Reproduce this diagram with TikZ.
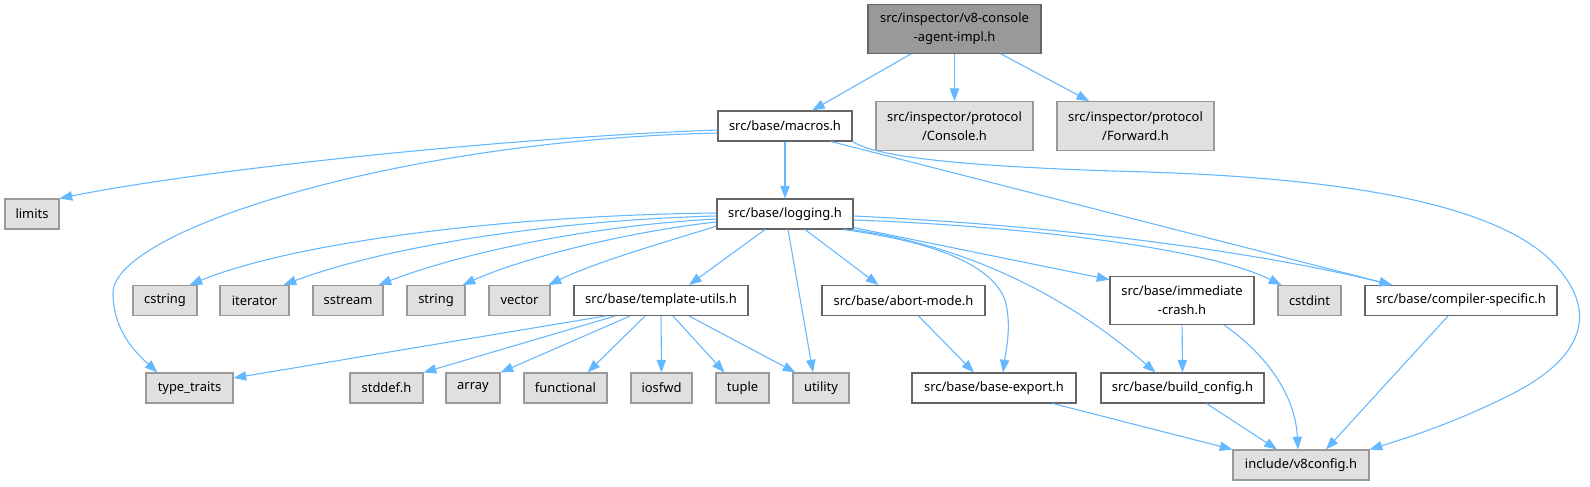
\documentclass[tikz,border=0pt]{standalone}
\usepackage{fontspec}
\setmainfont{Noto Sans}
\usetikzlibrary{arrows.meta,calc}
\definecolor{edgec}{HTML}{63B8FF}
\definecolor{darkfill}{HTML}{999999}
\definecolor{darkline}{HTML}{666666}
\definecolor{grayfill}{HTML}{E0E0E0}
\definecolor{grayline}{HTML}{999999}
\begin{document}
\begin{tikzpicture}[x=0.75pt,y=-0.75pt,
  every node/.style={font=\fontsize{9.7}{14.3}\selectfont, inner sep=0pt, align=center, line width=0.8pt},
  wd/.style={minimum width=#1*0.75pt},
  one/.style={minimum height=22.5pt},
  two/.style={minimum height=36.5pt},
  mainbox/.style={draw=darkline, fill=darkfill},
  filebox/.style={draw=darkline, fill=white},
  sysbox/.style={draw=grayline, fill=grayfill},
  conn/.style={draw=edgec, line width=0.8pt, -{Triangle[length=9.5pt,width=7pt]}}
]
\fill[white] (0,0) rectangle (1590,486);
\useasboundingbox (0,0) rectangle (1590,486);

% nodes
\node[mainbox,two,wd=173] (top) at (954.5,29) {src/inspector/v8-console\\-agent-impl.h};
\node[filebox,one,wd=134] (macros) at (785,126) {src/base/macros.h};
\node[sysbox,two,wd=157] (console) at (954.5,126) {src/inspector/protocol\\/Console.h};
\node[sysbox,two,wd=157] (forward) at (1135.5,126) {src/inspector/protocol\\/Forward.h};
\node[sysbox,one,wd=54] (limits) at (32,214) {limits};
\node[filebox,one,wd=136] (logging) at (785,214) {src/base/logging.h};
\node[sysbox,one,wd=64] (cstring) at (165,300.5) {cstring};
\node[sysbox,one,wd=69] (iterator) at (254.5,300.5) {iterator};
\node[sysbox,one,wd=70] (sstream) at (348,300.5) {sstream};
\node[sysbox,one,wd=58] (string) at (436,300.5) {string};
\node[sysbox,one,wd=61] (vector) at (519.5,300.5) {vector};
\node[filebox,one,wd=174] (tmpl) at (661,300.5) {src/base/template-utils.h};
\node[filebox,one,wd=163] (abort) at (903.5,300.5) {src/base/abort-mode.h};
\node[filebox,two,wd=144] (imm) at (1182,300.5) {src/base/immediate\\-crash.h};
\node[sysbox,one,wd=63] (cstdint) at (1309.5,300.5) {cstdint};
\node[filebox,one,wd=192] (comp) at (1461,300.5) {src/base/compiler-specific.h};
\node[sysbox,one,wd=87] (tt) at (189.5,388) {type\_traits};
\node[sysbox,one,wd=73] (stddef) at (386.5,388) {stddef.h};
\node[sysbox,one,wd=54] (array) at (473,388) {array};
\node[sysbox,one,wd=83] (functional) at (565.5,388) {functional};
\node[sysbox,one,wd=61] (iosfwd) at (661.5,388) {iosfwd};
\node[sysbox,one,wd=53] (tuple) at (742.5,388) {tuple};
\node[sysbox,one,wd=56] (utility) at (821,388) {utility};
\node[filebox,one,wd=164] (bexport) at (994,388) {src/base/base-export.h};
\node[filebox,one,wd=163] (bconfig) at (1182.5,388) {src/base/build\_config.h};
\node[sysbox,one,wd=136] (v8) at (1301,465) {include/v8config.h};

% connectors
\draw[conn] (top) -- (macros);
\draw[conn] (top) -- (console);
\draw[conn] (top) -- (forward);
\draw[conn] (macros) -- (logging);
\draw[conn] ($(macros.west)+(0,4)$) .. controls (500,138) and (200,170) .. (limits.north east);
\draw[conn] ($(macros.west)+(0,7)$) .. controls (400,140) and (113,230) .. (113,293) .. controls (113,330) and (135,352) .. ($(tt.north west)+(12,0)$);
\draw[conn] ($(macros.south)+(46,0)$) -- ($(comp.north)+(-69,0)$);
\draw[conn] (macros.south east) .. controls (880,160) and (1000,168) .. (1147,172) .. controls (1330,178) and (1480,200) .. (1545,255) .. controls (1600,305) and (1590,355) .. (1510,395) .. controls (1450,425) and (1400,440) .. (v8.north east);

\draw[conn] ($(logging.west)+(0,-1)$) .. controls (520,215) and (300,240) .. ($(cstring.north east)+(-8,0)$);
\draw[conn] ($(logging.west)+(0,2)$) .. controls (560,220) and (390,245) .. ($(iterator.north east)+(-6,0)$);
\draw[conn] ($(logging.west)+(0,5)$) .. controls (600,225) and (470,250) .. ($(sstream.north east)+(-5,0)$);
\draw[conn] ($(logging.west)+(0,8)$) .. controls (640,230) and (530,255) .. ($(string.north east)+(-3,0)$);
\draw[conn] ($(logging.west)+(0,12)$) .. controls (680,238) and (600,260) .. ($(vector.north east)+(-2,0)$);
\draw[conn] ($(logging.south)+(-20,0)$) -- ($(tmpl.north)+(28,0)$);
\draw[conn] ($(logging.south)+(3,0)$) -- ($(utility.north)+(-8,0)$);
\draw[conn] ($(logging.south)+(20,0)$) -- ($(abort.north)+(-25,0)$);
\draw[conn] ($(logging.south east)+(-10,0)$) .. controls (920,240) and (990,260) .. (1005,300) .. controls (1012,325) and (1006,350) .. ($(bexport.north)+(9,0)$);
\draw[conn] ($(logging.south east)+(-2,0)$) .. controls (960,245) and (1060,290) .. ($(bconfig.north)+(-27,0)$);
\draw[conn] ($(logging.south east)+(0,-2)$) -- ($(imm.north west)+(0,4)$);
\draw[conn] ($(logging.east)+(0,6)$) .. controls (1000,225) and (1200,245) .. ($(cstdint.north west)+(4,0)$);
\draw[conn] ($(logging.east)+(0,2)$) .. controls (1050,225) and (1250,250) .. ($(comp.north)+(-69,0)$);

\draw[conn] ($(tmpl.south)+(-56,0)$) -- ($(tt.east)+(0,-10)$);
\draw[conn] ($(tmpl.south)+(-46,0)$) -- (stddef.north east);
\draw[conn] ($(tmpl.south)+(-31,0)$) -- (array.north east);
\draw[conn] ($(tmpl.south)+(-16,0)$) -- ($(functional.north east)+(-20,0)$);
\draw[conn] (tmpl) -- (iosfwd);
\draw[conn] ($(tmpl.south)+(12,0)$) -- ($(tuple.north)+(-18,0)$);
\draw[conn] ($(tmpl.south)+(28,0)$) -- ($(utility.north west)+(3,0)$);

\draw[conn] ($(abort.south)+(15,0)$) -- ($(bexport.north)+(-20,0)$);
\draw[conn] (imm) -- (bconfig);
\draw[conn] ($(imm.south east)+(-30,0)$) .. controls (1260,350) and (1295,390) .. ($(v8.north)+(-3,0)$);
\draw[conn] ($(comp.south)+(-13,0)$) -- ($(v8.north)+(25,0)$);
\draw[conn] ($(bexport.south)+(59,0)$) -- (v8.north west);
\draw[conn] ($(bconfig.south)+(24,0)$) -- ($(v8.north)+(-24,0)$);
\end{tikzpicture}
\end{document}
